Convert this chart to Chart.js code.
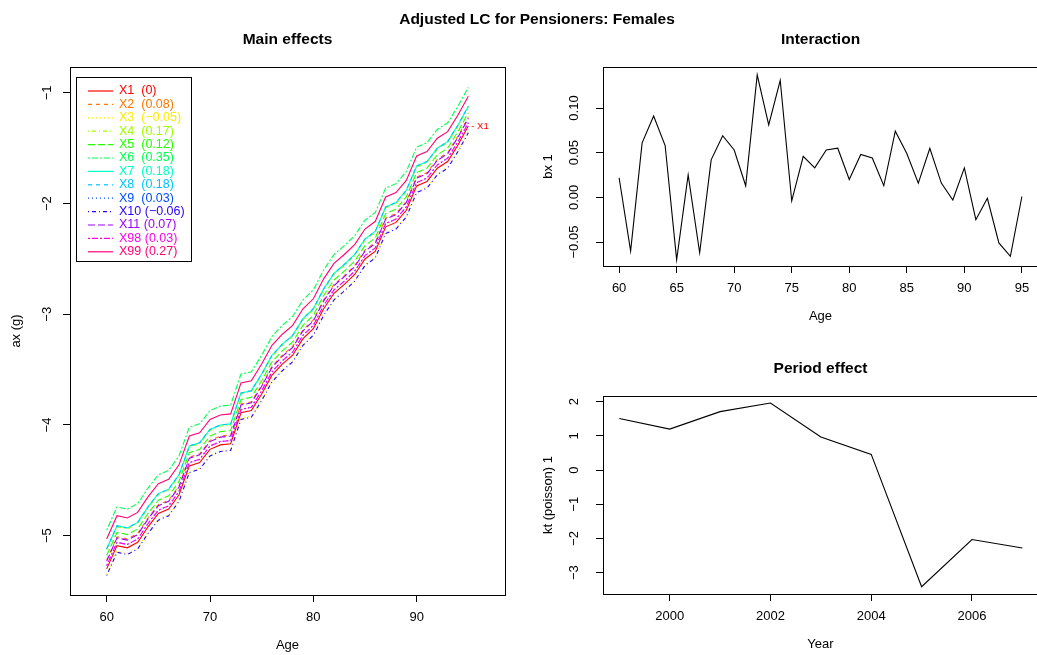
<!DOCTYPE html>
<html>
<head>
<meta charset="utf-8">
<title>Adjusted LC for Pensioners: Females</title>
<script src="https://cdn.jsdelivr.net/npm/chart.js@4.4.1/dist/chart.umd.min.js"></script>
<style>
html, body { margin: 0; padding: 0; background: #fff; overflow: hidden; width: 1037px; height: 655px; }
canvas { position: absolute; left: 0; top: 0; }
</style>
</head>
<body>
<canvas id="mainChart" width="1060" height="655"></canvas>
<canvas id="interChart" width="1060" height="655"></canvas>
<canvas id="periodChart" width="1060" height="655"></canvas>
<script>
// ---- data ----
const ages = [60, 61, 62, 63, 64, 65, 66, 67, 68, 69, 70, 71, 72, 73, 74, 75, 76, 77,
              78, 79, 80, 81, 82, 83, 84, 85, 86, 87, 88, 89, 90, 91, 92, 93, 94, 95];
// main effect of the reference group X1
const axX1 = [-5.30, -5.09, -5.11, -5.06, -4.92, -4.80, -4.76, -4.63, -4.37, -4.34, -4.22, -4.18,
              -4.17, -3.89, -3.87, -3.72, -3.55, -3.45, -3.37, -3.22, -3.13, -2.95, -2.81, -2.73,
              -2.64, -2.50, -2.43, -2.21, -2.17, -2.06, -1.84, -1.80, -1.68, -1.62, -1.47, -1.30];
const seriesNames = ['X1', 'X2', 'X3', 'X4', 'X5', 'X6', 'X7', 'X8', 'X9', 'X10', 'X11', 'X98', 'X99'];
const seriesCoefs = [0, 0.08, -0.05, 0.17, 0.12, 0.35, 0.18, 0.18, 0.03, -0.06, 0.07, 0.03, 0.27];
const seriesColors = ['#FF0000', '#FF7600', '#FFEB00', '#9DFF00', '#27FF00', '#00FF4E', '#00FFC4',
                      '#00C4FF', '#004EFF', '#2700FF', '#9D00FF', '#FF00EB', '#FF0076'];
const bx1 = [0.022, -0.060, 0.061, 0.091, 0.058, -0.070, 0.025, -0.062, 0.042, 0.069, 0.053, 0.013,
             0.137, 0.081, 0.131, -0.004, 0.046, 0.033, 0.053, 0.055, 0.020, 0.048, 0.044, 0.013,
             0.074, 0.049, 0.016, 0.055, 0.016, -0.003, 0.033, -0.025, -0.001, -0.051, -0.066, 0.001];
const years = [1999, 2000, 2001, 2002, 2003, 2004, 2005, 2006, 2007];
const kt1 = [1.51, 1.20, 1.71, 1.96, 0.97, 0.46, -3.41, -2.03, -2.28];

const mainAgeTicks = [60, 70, 80, 90];
const axTicks = [-1, -2, -3, -4, -5];
const interAgeTicks = [60, 65, 70, 75, 80, 85, 90, 95];
const bxTicks = [0.10, 0.05, 0.00, -0.05];
const yearTicks = [2000, 2002, 2004, 2006];
const ktTicks = [2, 1, 0, -1, -2, -3];

// ---- styling ----
var FONT = "'Liberation Sans', Arial, Helvetica, sans-serif";
Chart.defaults.font.family = FONT;
Chart.defaults.color = '#000';
var PAGE_W = 1060, PAGE_H = 655, TICK_LEN = 7, XAXIS_H = 30;
// R line types 1..6
var ltyDashes = [[], [4, 4], [1, 3], [1, 3, 4, 3], [7, 3], [2, 2, 6, 2]];

function minusSign(s) { return s.replace('-', '\u2212'); }

function makeFrame(cfg) {
    return {
        id: 'frame',
        afterDraw: function(chart) {
            var ctx = chart.ctx, a = chart.chartArea;
            var ys = chart.scales.y;
            ctx.save();
            ctx.strokeStyle = '#000';
            ctx.lineWidth = 1;
            ctx.setLineDash([]);
            ctx.strokeRect(a.left + 0.5, a.top + 0.5, a.right - a.left, a.bottom - a.top);

            ctx.fillStyle = '#000';
            ctx.textAlign = 'center';
            ctx.textBaseline = 'middle';
            ctx.font = '13px ' + FONT;
            cfg.yTicks.forEach(function(v, i) {
                ctx.save();
                ctx.translate(a.left - cfg.yLabelGap, ys.getPixelForValue(v));
                ctx.rotate(-Math.PI / 2);
                ctx.fillText(cfg.yLabels[i], 0, 0);
                ctx.restore();
            });
            var cx = (a.left + a.right) / 2;
            ctx.save();
            ctx.translate(a.left - cfg.yTitleGap, (a.top + a.bottom) / 2);
            ctx.rotate(-Math.PI / 2);
            ctx.fillText(cfg.yTitle, 0, 0);
            ctx.restore();
            ctx.fillText(cfg.xTitle, cx, a.bottom + 50);

            ctx.font = 'bold 15.5px ' + FONT;
            ctx.fillText(cfg.title, cx, a.top - 27);
            if (cfg.suptitle) ctx.fillText(cfg.suptitle, 537, 20);

            if (cfg.legend) drawLegend(ctx, cfg.legend);
            if (cfg.endLabel) {
                ctx.font = '9.5px ' + FONT;
                ctx.textAlign = 'left';
                ctx.fillStyle = cfg.endLabel.color;
                ctx.fillText(cfg.endLabel.text, chart.scales.x.getPixelForValue(cfg.endLabel.x) + 3,
                             ys.getPixelForValue(cfg.endLabel.y));
            }
            ctx.restore();
        }
    };
}

function drawLegend(ctx, lg) {
    ctx.save();
    ctx.strokeStyle = '#000';
    ctx.lineWidth = 1;
    ctx.setLineDash([]);
    ctx.strokeRect(76.5, 77.5, 115, 184);
    ctx.font = '12.5px ' + FONT;
    ctx.textAlign = 'left';
    ctx.textBaseline = 'middle';
    lg.labels.forEach(function(label, i) {
        var y = 91 + i * 13.4;
        ctx.strokeStyle = lg.colors[i];
        ctx.lineWidth = 1.2;
        ctx.setLineDash(lg.dashes[i]);
        ctx.beginPath();
        ctx.moveTo(88, y);
        ctx.lineTo(113, y);
        ctx.stroke();
        ctx.fillStyle = lg.colors[i];
        ctx.fillText(label, 119, y);
    });
    ctx.restore();
}

function axisScale(min, max, ticks, isX) {
    return {
        type: 'linear',
        min: min,
        max: max,
        afterBuildTicks: function(scale) {
            scale.ticks = ticks.map(function(v) { return { value: v }; });
        },
        afterFit: function(scale) {
            if (isX) scale.height = XAXIS_H; else scale.width = TICK_LEN;
        },
        border: { display: false },
        grid: {
            drawOnChartArea: false,
            drawTicks: true,
            tickLength: TICK_LEN,
            color: '#000',
            tickColor: '#000',
            lineWidth: 1
        },
        ticks: {
            display: isX,
            autoSkip: false,
            maxRotation: 0,
            padding: 8,
            color: '#000',
            font: { size: 13 },
            callback: function(v) { return String(v); }
        }
    };
}

function buildChart(id, area, datasets, scales, frameCfg) {
    return new Chart(document.getElementById(id), {
        type: 'line',
        data: { datasets: datasets },
        options: {
            responsive: false,
            animation: false,
            events: [],
            layout: {
                padding: {
                    left: area.left - TICK_LEN,
                    top: area.top,
                    right: PAGE_W - area.right,
                    bottom: PAGE_H - area.bottom - XAXIS_H
                }
            },
            elements: { point: { radius: 0 }, line: { tension: 0, borderWidth: 1 } },
            plugins: { legend: { display: false }, tooltip: { enabled: false } },
            scales: scales
        },
        plugins: [makeFrame(frameCfg)]
    });
}

// ---- main effects ----
var mainDatasets = seriesNames.map(function(name, i) {
    return {
        label: name,
        data: ages.map(function(a, k) { return { x: a, y: axX1[k] + seriesCoefs[i] }; }),
        borderColor: seriesColors[i],
        borderDash: ltyDashes[i % 6],
        borderWidth: 1.1,
        fill: false,
        order: seriesNames.length - i
    };
});
var legendLabels = seriesNames.map(function(name, i) {
    var gap = name.length === 2 ? '  ' : ' ';
    return name + gap + '(' + minusSign(String(seriesCoefs[i])) + ')';
});

buildChart('mainChart', { left: 70, top: 67, right: 505, bottom: 595 }, mainDatasets, {
    x: axisScale(56.45, 98.55, mainAgeTicks, true),
    y: axisScale(-5.536, -0.766, axTicks, false)
}, {
    title: 'Main effects',
    suptitle: 'Adjusted LC for Pensioners: Females',
    xTitle: 'Age',
    yTitle: 'ax (g)',
    yLabelGap: 23,
    yTitleGap: 54,
    yTicks: axTicks,
    yLabels: axTicks.map(function(v) { return minusSign(String(v)); }),
    legend: {
        labels: legendLabels,
        colors: seriesColors,
        dashes: seriesNames.map(function(n, i) { return ltyDashes[i % 6]; })
    },
    endLabel: { text: '- X1', color: '#FF0000', x: ages[ages.length - 1], y: axX1[axX1.length - 1] }
});

// ---- interaction ----
buildChart('interChart', { left: 603, top: 67, right: 1038, bottom: 266 }, [{
    label: 'bx 1',
    data: ages.map(function(a, k) { return { x: a, y: bx1[k] }; }),
    borderColor: '#000',
    borderWidth: 1.1,
    fill: false
}], {
    x: axisScale(58.6, 96.4, interAgeTicks, true),
    y: axisScale(-0.0768, 0.1459, bxTicks, false)
}, {
    title: 'Interaction',
    xTitle: 'Age',
    yTitle: 'bx 1',
    yLabelGap: 29,
    yTitleGap: 55,
    yTicks: bxTicks,
    yLabels: bxTicks.map(function(v) { return minusSign(v.toFixed(2)); })
});

// ---- period effect ----
buildChart('periodChart', { left: 603, top: 396, right: 1038, bottom: 594 }, [{
    label: 'kt (poisson) 1',
    data: years.map(function(y, k) { return { x: y, y: kt1[k] }; }),
    borderColor: '#000',
    borderWidth: 1.1,
    fill: false
}], {
    x: axisScale(1998.676, 2007.31, yearTicks, true),
    y: axisScale(-3.623, 2.167, ktTicks, false)
}, {
    title: 'Period effect',
    xTitle: 'Year',
    yTitle: 'kt (poisson) 1',
    yLabelGap: 29,
    yTitleGap: 55,
    yTicks: ktTicks,
    yLabels: ktTicks.map(function(v) { return minusSign(String(v)); })
});
</script>
</body>
</html>
